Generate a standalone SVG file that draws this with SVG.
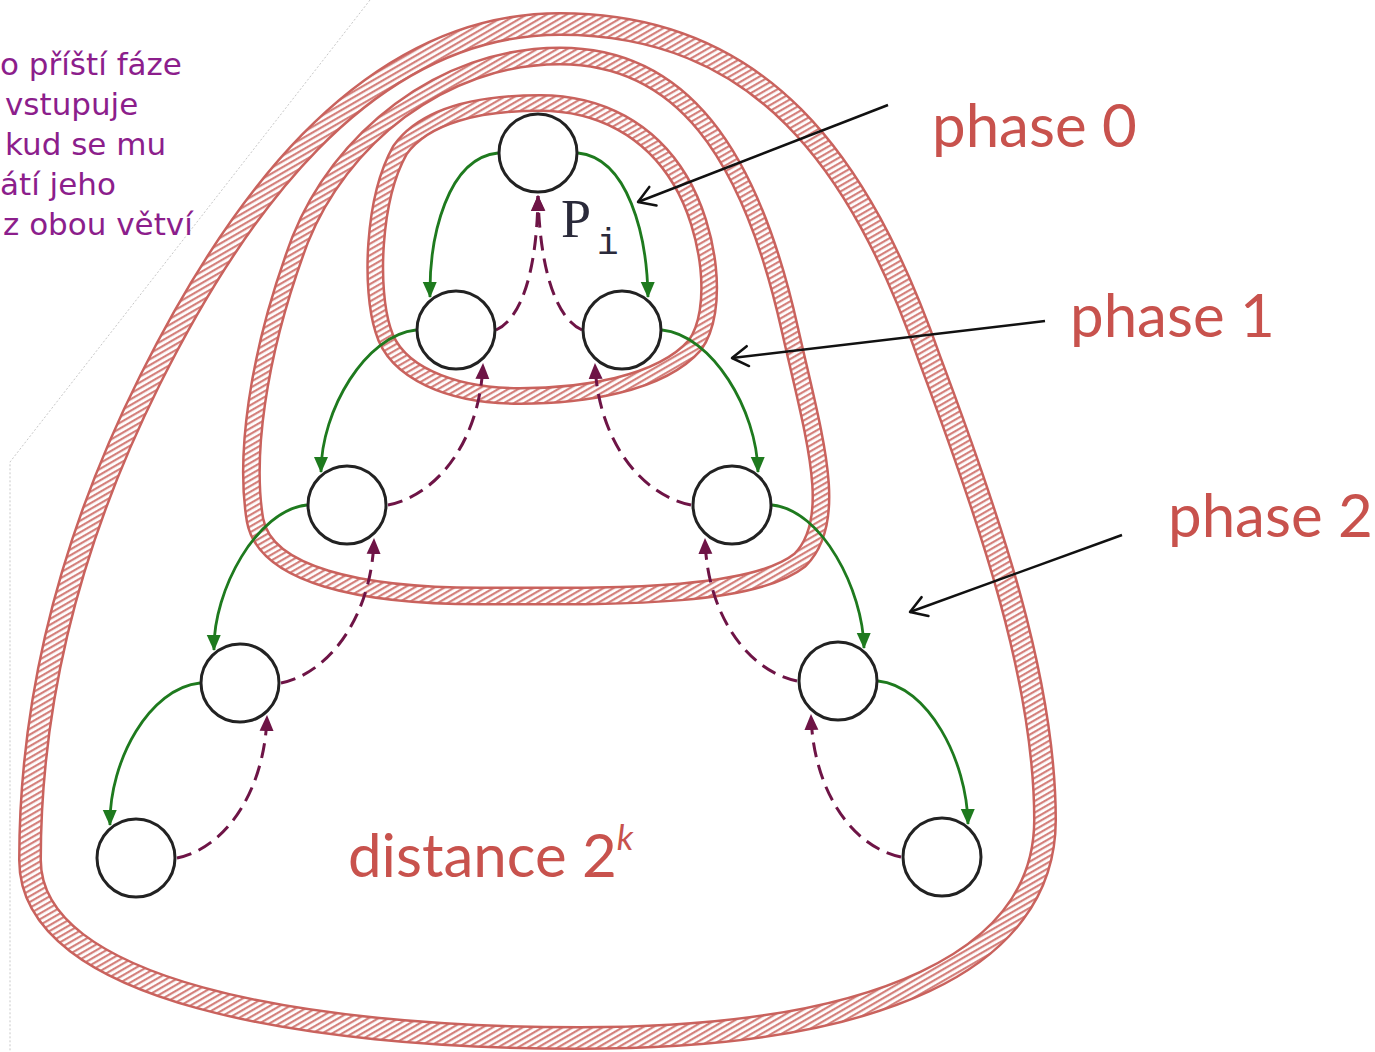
<svg xmlns="http://www.w3.org/2000/svg" width="1375" height="1052" viewBox="0 0 1375 1052">
<style>
.band-o{fill:none;stroke:#c9625d;}
.band-i{fill:none;stroke:url(#hatch);}
.node circle{fill:#fff;stroke:#222;stroke-width:3;}
.g{fill:none;stroke:#1e7a1e;stroke-width:2.8;marker-end:url(#ag);}
.p{fill:none;stroke:#6e1446;stroke-width:3;stroke-dasharray:15 8;marker-end:url(#ap);}
.k{fill:none;stroke:#111;stroke-width:2.5;marker-end:url(#ak);}
.lbl{font-family:Lato,"Open Sans",sans-serif;fill:#c8524d;font-size:60px;}
.cz{font-family:"DejaVu Sans",sans-serif;fill:#8c1e8c;font-size:31px;}
</style>
<defs>
<pattern id="hatch" patternUnits="userSpaceOnUse" width="5" height="5" patternTransform="rotate(60)">
<rect width="5" height="5" fill="#fff"/>
<rect width="2.2" height="5" fill="#d4807b"/>
</pattern>
<marker id="ag" markerUnits="userSpaceOnUse" markerWidth="16" markerHeight="16" viewBox="0 0 16 16" refX="15" refY="8" orient="auto">
<path d="M0,1 L16,8 L0,15 z" fill="#1e7a1e"/>
</marker>
<marker id="ap" markerUnits="userSpaceOnUse" markerWidth="16" markerHeight="16" viewBox="0 0 16 16" refX="15" refY="8" orient="auto">
<path d="M0,1 L16,8 L0,15 z" fill="#6e1446"/>
</marker>
<marker id="ak" markerUnits="userSpaceOnUse" markerWidth="24" markerHeight="24" viewBox="0 0 24 24" refX="21" refY="12" orient="auto">
<path d="M5,2 L21,12 L5,22" fill="none" stroke="#111" stroke-width="2.5" stroke-linecap="round" stroke-linejoin="round"/>
</marker>
</defs>
<rect width="1375" height="1052" fill="#fff"/>
<polyline points="370,0 10,462 10,1052" fill="none" stroke="#c8c8c8" stroke-width="1" stroke-dasharray="2 2"/>
<g id="notes">
<text class="cz" x="0" y="75">o příští fáze</text>
<text class="cz" x="5" y="115">vstupuje</text>
<text class="cz" x="5" y="155">kud se mu</text>
<text class="cz" x="0" y="195">átí jeho</text>
<text class="cz" x="3" y="235">z obou větví</text>
</g>
<g id="phase2-region">
<path class="band-o" stroke-width="24" d="M560,24 C760,24 860,160 930,360 C990,520 1045,680 1045,820 C1045,960 880,1038 580,1038 C300,1038 30,990 30,860 C30,700 70,540 150,380 C230,220 360,24 560,24 Z"/>
<path class="band-i" stroke-width="19" d="M560,24 C760,24 860,160 930,360 C990,520 1045,680 1045,820 C1045,960 880,1038 580,1038 C300,1038 30,990 30,860 C30,700 70,540 150,380 C230,220 360,24 560,24 Z"/>
</g>
<g id="phase1-region">
<path class="band-o" stroke-width="19" d="M560,56 C680,56 750,150 790,330 C815,440 840,520 800,560 C750,600 600,596 480,596 C360,596 265,575 255,520 C245,460 255,360 300,240 C340,140 440,56 560,56 Z"/>
<path class="band-i" stroke-width="14" d="M560,56 C680,56 750,150 790,330 C815,440 840,520 800,560 C750,600 600,596 480,596 C360,596 265,575 255,520 C245,460 255,360 300,240 C340,140 440,56 560,56 Z"/>
</g>
<g id="phase0-region">
<path class="band-o" stroke-width="18" d="M540,103 C600,103 650,130 680,180 C710,230 720,310 695,345 C660,385 580,396 520,396 C450,396 395,372 383,330 C370,290 372,200 400,150 C425,115 480,103 540,103 Z"/>
<path class="band-i" stroke-width="13" d="M540,103 C600,103 650,130 680,180 C710,230 720,310 695,345 C660,385 580,396 520,396 C450,396 395,372 383,330 C370,290 372,200 400,150 C425,115 480,103 540,103 Z"/>
</g>
<g id="connectors">
<path class="g" d="M498,153 C448,158 429,235 430,297"/>
<path class="g" d="M578,153 C628,158 647,235 648,297"/>
<path class="g" d="M416,330 C366,335 321,410 321,472"/>
<path class="g" d="M662,330 C712,335 757,410 758,472"/>
<path class="g" d="M307,505 C257,510 213,590 214,650"/>
<path class="g" d="M772,505 C822,510 863,590 864,648"/>
<path class="g" d="M200,683 C150,688 109,760 110,825"/>
<path class="g" d="M878,681 C928,686 967,760 968,824"/>
<path class="p" d="M496,330 C522,318 537,270 538,196"/>
<path class="p" d="M582,330 C556,318 540,270 538,196"/>
<path class="p" d="M388,505 C438,495 480,440 483,364"/>
<path class="p" d="M691,505 C641,495 598,440 595,364"/>
<path class="p" d="M281,683 C330,673 372,615 374,539"/>
<path class="p" d="M797,681 C748,671 707,615 705,539"/>
<path class="p" d="M177,858 C226,848 265,790 267,716"/>
<path class="p" d="M901,857 C852,847 813,790 811,715"/>
<path class="k" d="M888,105 L638,202"/>
<path class="k" d="M1045,321 L732,358"/>
<path class="k" d="M1122,535 L910,612"/>
</g>
<g id="n0" class="node"><circle cx="538" cy="153" r="39"/></g>
<g id="l1" class="node"><circle cx="456" cy="330" r="39"/></g>
<g id="r1" class="node"><circle cx="622" cy="330" r="39"/></g>
<g id="l2" class="node"><circle cx="347" cy="505" r="39"/></g>
<g id="r2" class="node"><circle cx="732" cy="505" r="39"/></g>
<g id="l3" class="node"><circle cx="240" cy="683" r="39"/></g>
<g id="r3" class="node"><circle cx="838" cy="681" r="39"/></g>
<g id="l4" class="node"><circle cx="136" cy="858" r="39"/></g>
<g id="r4" class="node"><circle cx="942" cy="857" r="39"/></g>
<g id="pi-label">
<text x="561" y="237" font-family="'Liberation Serif',serif" font-size="54" fill="#2a2a3a">P</text>
<text x="597" y="254" font-family="'Liberation Mono',monospace" font-size="36" fill="#2a2a3a">i</text>
</g>
<g id="labels">
<text class="lbl" x="932" y="147">phase 0</text>
<text class="lbl" x="1070" y="337">phase 1</text>
<text class="lbl" x="1168" y="537">phase 2</text>
<text class="lbl" x="348" y="877">distance 2<tspan font-size="35" font-style="italic" dy="-27">k</tspan></text>
</g>
</svg>
